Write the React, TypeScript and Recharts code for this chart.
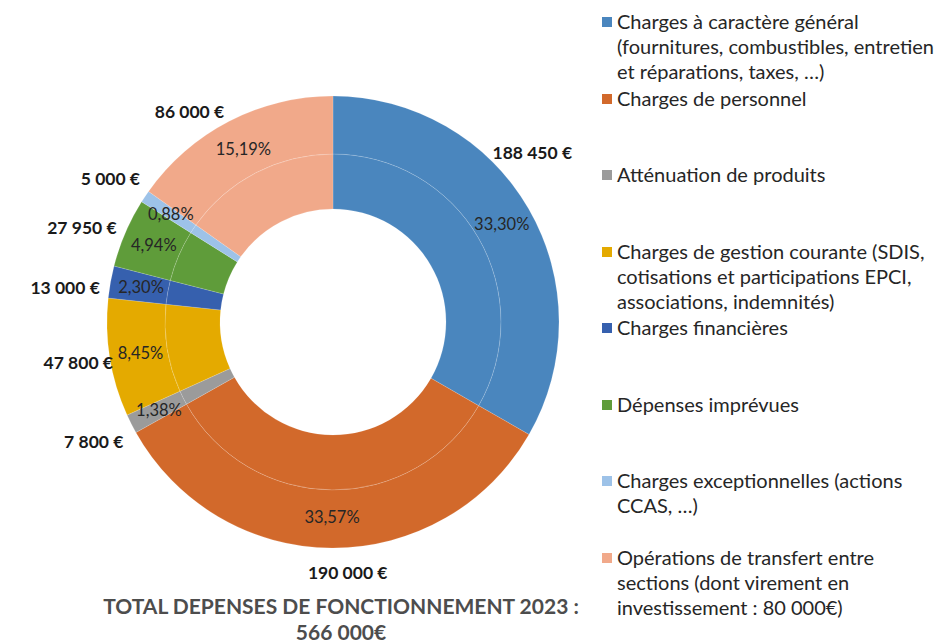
import React from 'react';
import { PieChart, Pie, Cell, Legend } from 'recharts';

const categories = [
  'Charges à caractère général (fournitures, combustibles, entretien et réparations, taxes, …)',
  'Charges de personnel',
  'Atténuation de produits',
  'Charges de gestion courante (SDIS, cotisations et participations EPCI, associations, indemnités)',
  'Charges financières',
  'Dépenses imprévues',
  'Charges exceptionnelles (actions CCAS, …)',
  'Opérations de transfert entre sections (dont virement en investissement : 80 000€)',
];

// legend lines as they wrap in the original
const legendLines = [
  ['Charges à caractère général', '(fournitures, combustibles, entretien', 'et réparations, taxes, …)'],
  ['Charges de personnel'],
  ['Atténuation de produits'],
  ['Charges de gestion courante (SDIS,', 'cotisations et participations EPCI,', 'associations, indemnités)'],
  ['Charges financières'],
  ['Dépenses imprévues'],
  ['Charges exceptionnelles (actions', 'CCAS, …)'],
  ['Opérations de transfert entre', 'sections (dont virement en', 'investissement : 80 000€)'],
];

const amounts = [188450, 190000, 7800, 47800, 13000, 27950, 5000, 86000];

const colors = ['#4A86BE', '#D2692B', '#9B9B9B', '#E4AA00', '#3660AE', '#5F9C3A', '#9DC2E8', '#F1A98A'];

const titleLines = ['TOTAL DEPENSES DE FONCTIONNEMENT 2023 :', '566 000€'];

// small manual nudges for the amount labels, like the hand-placed ones in the original
const amountLabelNudge: [number, number][] = [
  [-24, -40], [16, -7], [-9, 3], [0, 0], [-14, 11], [-14, 7], [-8, 0], [-25, 19],
];

const total = amounts.reduce((s, v) => s + v, 0);
const data = categories.map((name, i) => ({ name, value: amounts[i] }));

const RAD = Math.PI / 180;
const FONT = 'Lato, "Open Sans", sans-serif';

function formatEuro(v: number) {
  return String(v).replace(/\B(?=(\d{3})+(?!\d))/g, ' ') + ' €';
}

function formatPct(v: number) {
  return ((v / total) * 100).toFixed(2).replace('.', ',') + '%';
}

const renderLabel = (props: any) => {
  const { cx, cy, midAngle, value, index } = props;
  const cos = Math.cos(-midAngle * RAD);
  const sin = Math.sin(-midAngle * RAD);
  const pr = 195;
  const vr = 258;
  const [nx, ny] = amountLabelNudge[index] || [0, 0];
  return (
    <g>
      <text
        x={cx + pr * cos}
        y={cy + pr * sin}
        textAnchor="middle"
        dominantBaseline="central"
        fontSize={16.5}
        fontFamily={FONT}
        fill="#262626"
      >
        {formatPct(value)}
      </text>
      <text
        x={cx + vr * cos + nx}
        y={cy + vr * sin + ny}
        textAnchor="middle"
        dominantBaseline="central"
        fontSize={17.5}
        fontWeight="bold"
        fontFamily={FONT}
        fill="#1a1a1a"
      >
        {formatEuro(value)}
      </text>
    </g>
  );
};

const LegendBox = () => (
  <div style={{ fontFamily: FONT, fontSize: 20, color: '#262626' }}>
    {legendLines.map((lines, i) => (
      <div key={i} style={{ position: 'relative', height: 76.5, paddingLeft: 15 }}>
        <span
          style={{
            position: 'absolute',
            left: 0,
            top: 8,
            width: 10,
            height: 10,
            background: colors[i],
          }}
        />
        {lines.map((l, j) => (
          <div key={j} style={{ lineHeight: '25px', whiteSpace: 'nowrap' }}>{l}</div>
        ))}
      </div>
    ))}
  </div>
);

export default function App() {
  return (
    <div style={{ position: 'absolute', left: 0, top: 0, width: 941, height: 644, background: '#fff', overflow: 'hidden' }}>
      <PieChart width={941} height={644} margin={{ top: 0, right: 0, bottom: 0, left: 0 }}>
        <Pie
          data={data}
          dataKey="value"
          nameKey="name"
          cx={333}
          cy={322}
          innerRadius={113}
          outerRadius={168}
          startAngle={90}
          endAngle={-270}
          stroke="rgba(255,255,255,0.3)"
          strokeWidth={0.5}
          isAnimationActive={false}
        >
          {data.map((d, i) => (
            <Cell key={i} fill={colors[i]} />
          ))}
        </Pie>
        <Pie
          data={data}
          dataKey="value"
          nameKey="name"
          cx={333}
          cy={322}
          innerRadius={168}
          outerRadius={226}
          startAngle={90}
          endAngle={-270}
          stroke="rgba(255,255,255,0.3)"
          strokeWidth={0.5}
          label={renderLabel}
          labelLine={false}
          isAnimationActive={false}
        >
          {data.map((d, i) => (
            <Cell key={i} fill={colors[i]} />
          ))}
        </Pie>
        <Legend
          layout="vertical"
          align="right"
          verticalAlign="top"
          content={() => <LegendBox />}
          wrapperStyle={{ left: 602, top: 9, width: 339 }}
        />
      </PieChart>
      <div
        style={{
          position: 'absolute',
          left: 0,
          width: 682,
          top: 593,
          textAlign: 'center',
          fontFamily: FONT,
          fontWeight: 'bold',
          fontSize: 21,
          color: '#4d4d4d',
          lineHeight: '26px',
        }}
      >
        {titleLines.map((t, i) => (
          <div key={i}>{t}</div>
        ))}
      </div>
    </div>
  );
}
